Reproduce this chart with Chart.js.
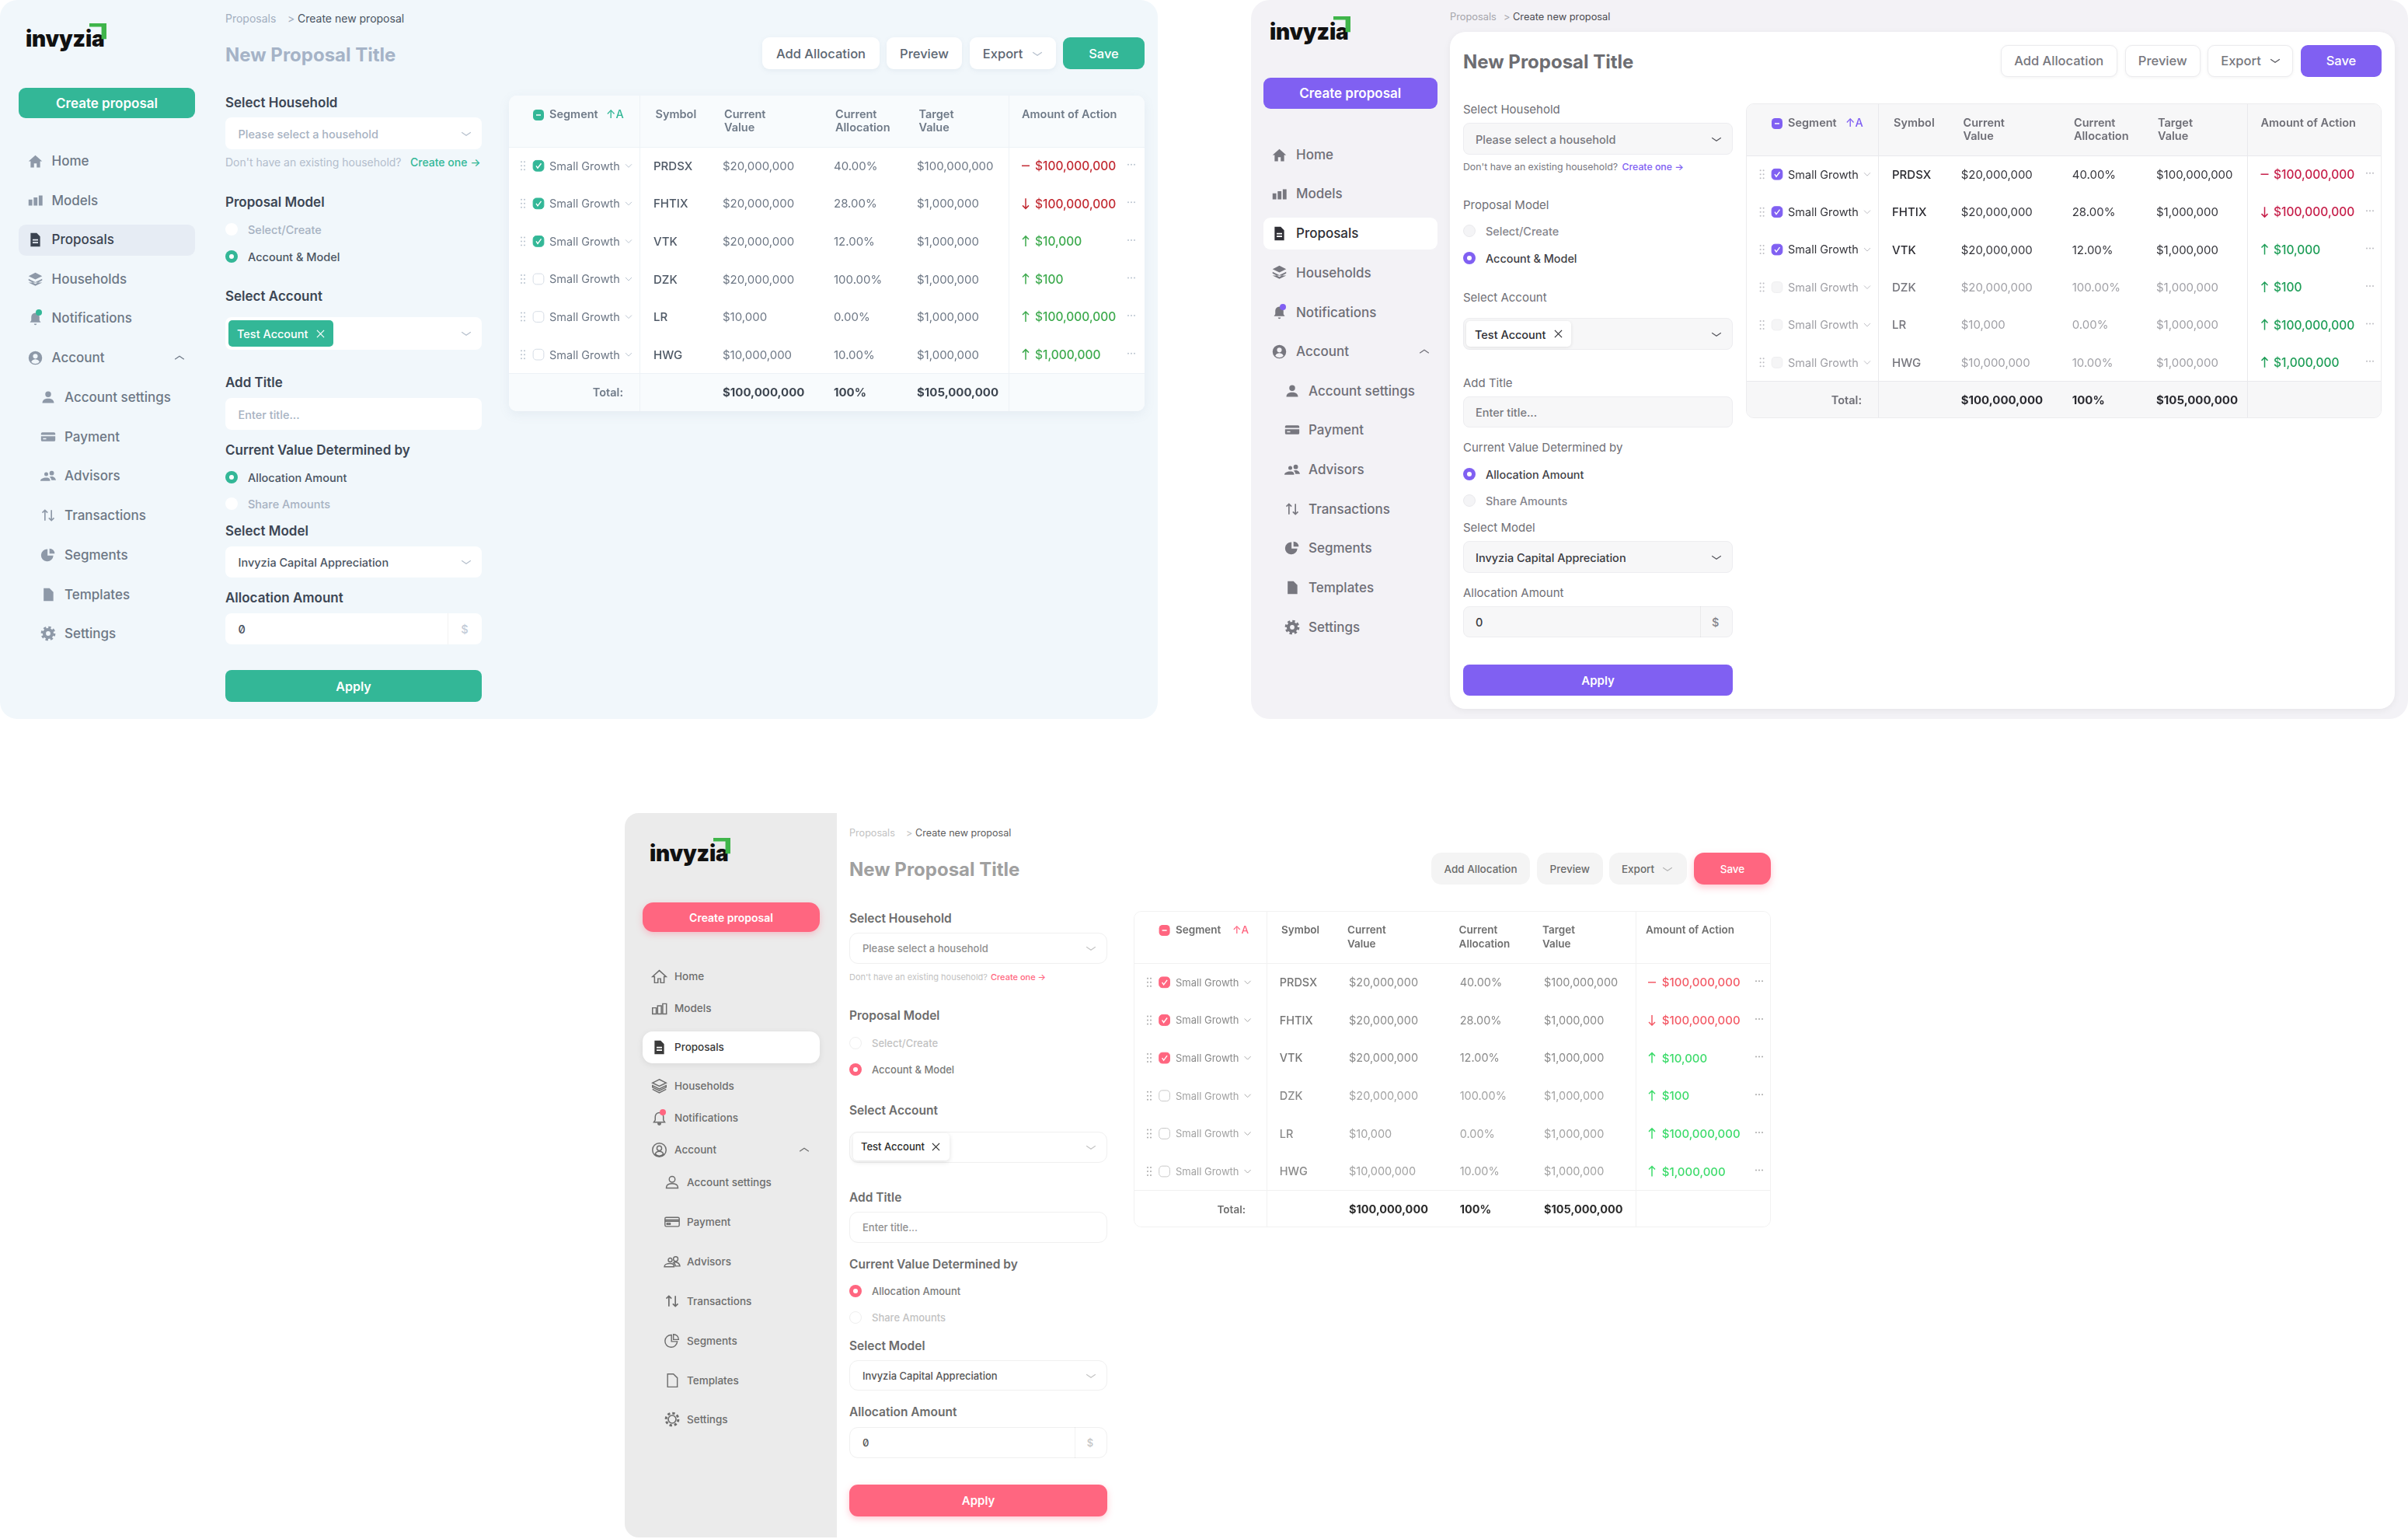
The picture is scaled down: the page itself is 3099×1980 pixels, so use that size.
<!DOCTYPE html>
<html>
<head>
<meta charset="utf-8">
<title>New Proposal Title</title>
<script src="https://cdn.jsdelivr.net/npm/chart.js@4"></script>
<style>
  html, body { margin: 0; padding: 0; background: #fff; }
  #page { position: relative; width: 3099px; height: 1980px; overflow: hidden; font-family: Inter, "Noto Sans", sans-serif; }
  .abs { position: absolute; box-sizing: border-box; }
  .txt { position: absolute; white-space: nowrap; transform: translateY(-50%); line-height: 1.2; }
  svg { position: absolute; overflow: visible; }
  canvas { display: block; }
</style>
</head>
<body>
<div id="page"></div>
<script>
// --- DATOS DE LA TABLA ---
const tableHeaders = [['Segment'], ['Symbol'], ['Current', 'Value'], ['Current', 'Allocation'], ['Target', 'Value'], ['Amount of Action']];
const segments = ['Small Growth', 'Small Growth', 'Small Growth', 'Small Growth', 'Small Growth', 'Small Growth'];
const symbols = ['PRDSX', 'FHTIX', 'VTK', 'DZK', 'LR', 'HWG'];
const currentValues = [20000000, 20000000, 20000000, 20000000, 10000, 10000000];
const currentAllocations = [40, 28, 12, 100, 0, 10];
const targetValues = [100000000, 1000000, 1000000, 1000000, 1000000, 1000000];
const actionAmounts = [100000000, 100000000, 10000, 100, 100000000, 1000000];
const actionDirections = ['flat', 'down', 'up', 'up', 'up', 'up'];
const checkedRows = [true, true, true, false, false, false];
const totalLabel = 'Total:';
const totalCurrent = 100000000;
const totalAllocation = 100;
const totalTarget = 105000000;

// --- TEXTOS DE LA INTERFAZ ---
const navItems = ['Home', 'Models', 'Proposals', 'Households', 'Notifications', 'Account'];
const navIcons = ['home', 'models', 'doc', 'stack', 'bell', 'userCircle'];
const subNavItems = ['Account settings', 'Payment', 'Advisors', 'Transactions', 'Segments', 'Templates', 'Settings'];
const subNavIcons = ['user', 'card', 'people', 'arrows', 'pie', 'file', 'gear'];
const buttonLabels = ['Add Allocation', 'Preview', 'Export', 'Save'];

const money = v => '$' + v.toLocaleString('en-US');

// --- TEMAS: colores y posiciones de cada una de las tres pantallas ---
const temaVerde = {
  accent: '#33b797', panel: [0, 0, 1490, 925, 22, '#f1f7fb'], side: null,
  logo: [33, 50], nav: { x: 66.5, ic: 45, subX: 83, subIc: 62, y: [207, 257.5, 308, 359, 409, 460, 511, 562, 612, 663, 713.5, 764.5, 815], size: 17, color: '#6d7785', active: '#3a4350', hi: '#e6ecf4', hiShadow: 'none', icon: '#8e99a8', outline: false, radius: 9, chevX: 231 },
  create: [24, 113, 251, 152, 9, 17, 'none'], hi: [24, 289, 251, 329],
  crumb: { x: 290, sep: 370, cur: 383, y: 22.5, size: 14, c1: '#a3afbf', c2: '#4a5462' },
  title: [290, 70, '#a5b3c7', 700], form: [290, 620], inputPadX: 306.5, chevX: 600, dollarX: 598, divX: 576,
  y: { l1: 132, i1: [151, 192], hint: 208, l2: 260, r1: 295, r2: 330, l3: 381, i3: [408, 450], chip: [294, 429, 412, 446], chipText: 305, chipX: 412, l4: 492, i4: [512, 553], l5: 579, r3: 614, r4: 648, l6: 683, i6: [703, 743], l7: 769, i7: [789, 829], apply: [862, 903] },
  label: { size: 17, weight: 600, color: '#3c4654' }, input: { bg: '#fff', border: 'none', r: 8, ph: '#a7b2c2', val: '#4a5462', size: 14.5, zero: true },
  hintX: 528, hintSize: 14, hintC: '#b3bdcc', radio: { x: 298, tx: 319, size: 14.5, on: '#4a5462', off: '#a7b2c2', emptyBg: '#fff', emptyBorder: 'none', d: 16 },
  chipBg: '#33b797', chipFg: '#fff', chipShadow: 'none', chevC: '#b5bfcc', applyShadow: 'none', dollarC: '#c3ccd8',
  btn: { y: [48, 89], x: [[981, 1132], [1141, 1238], [1248, 1359], [1368, 1473]], bg: '#fff', border: 'none', r: 9, shadow: '0 2px 6px rgba(120,140,170,.10)', color: '#5c6672', size: 16.5, chev: 1334.5, expText: 1290.6, saveShadow: 'none', chevC: '#b5bfcc' },
  card: [655, 123, 1473, 529], cardStyle: 'box-shadow:0 4px 14px rgba(120,140,170,.10);border-radius:10px;', headH: 66, headBg: '#f8fbfd', totalBg: '#f8fbfd', body: '#fff', line: '#edf2f6',
  sep: [823, 1298], cols: [707, 843.5, 932, 1075, 1182.5, 1315], cells: { drag: 673, check: 693, seg: 707, chev: 809, sym: 841, val: 930, alloc: 1073, target: 1180, amt: 1315, amtText: 1332, dots: 1456, total: 802 }, sort: 780,
  tableFont: 15, amtFont: 15.5, headFont: 14.5, segFont: 14.5, headC: '#6f7a88', headY: 15.5, lh: 17,
  cellOn: '#6d7785', cellOff: '#6d7785', symOn: '#4f5966', symOff: '#4f5966', totalC: '#3d4550', totalLab: '#6f7a88', red: '#c22b33', green: '#3eaa4e', emptyBox: '#fff', boxLine: '#d5dce5', faint: '#b9c3cf'
};

const temaMorado = {
  accent: '#8060f2', panel: [1610, 0, 1489, 925, 24, '#f3f2f6'], side: null, sheet: [1866, 41, 1216, 871, 20],
  logo: [1634, 41], nav: { x: 1668, ic: 1646, subX: 1684, subIc: 1663, y: [199, 249, 300, 350.5, 401.5, 452, 503, 553, 604, 655, 705, 756, 807], size: 17, color: '#6e6e76', active: '#2f2f36', hi: '#fff', hiShadow: 'none', icon: '#77777f', outline: false, radius: 9, chevX: 1833 },
  create: [1626, 100, 1849.5, 140, 9, 17, 'none'], hi: [1626, 280, 1849.5, 321],
  crumb: { x: 1866, sep: 1935, cur: 1947, y: 21, size: 12.8, c1: '#a5a5ab', c2: '#4a4a50' },
  title: [1883, 79, '#6d6d72', 700], form: [1883, 2230], inputPadX: 1899, chevX: 2209, dollarX: 2207.6, divX: 2187.5,
  y: { l1: 140, i1: [158, 199], hint: 214, l2: 263, r1: 297, r2: 331.5, l3: 382, i3: [409, 450], chip: [1887, 2022, 413, 446], chipText: 1898, chipX: 2005, l4: 492, i4: [510, 550], l5: 575, r3: 610, r4: 643.5, l6: 678, i6: [696, 737], l7: 761.5, i7: [780, 820], apply: [855, 895] },
  label: { size: 15, weight: 400, color: '#6f6f76' }, input: { bg: '#f7f7f8', border: '1px solid #ededf0', r: 8, ph: '#77777e', val: '#3a3a40', size: 14.5, zero: false },
  hintX: 2087.5, hintSize: 12.3, hintC: '#77777e', radio: { x: 1891, tx: 1912, size: 14.4, on: '#3f3f46', off: '#85858c', emptyBg: '#f4f4f6', emptyBorder: '1px solid #eaeaed', d: 16 },
  chipBg: '#fff', chipFg: '#2e2e34', chipShadow: '0 1px 4px rgba(0,0,0,.10)', chevC: '#55555c', applyShadow: 'none', dollarC: '#85858c',
  btn: { y: [58, 98.5], x: [[2575, 2724.5], [2735, 2831.5], [2841.4, 2951], [2961, 3065]], bg: '#fff', border: '1px solid #ebebee', r: 9, shadow: '0 1px 4px rgba(0,0,0,.05)', color: '#77777e', size: 16.5, chev: 2928, expText: 2884, saveShadow: 'none', chevC: '#55555c' },
  card: [2247, 132.5, 3065, 538], cardStyle: 'border:1px solid #ececee;border-radius:10px;', headH: 66, headBg: '#f7f7f8', totalBg: '#f7f7f8', body: '#fff', line: '#e9e9ec',
  sep: [2416, 2891], cols: [2300, 2436, 2525.5, 2668, 2776, 2908.5], cells: { drag: 2266.6, check: 2286, seg: 2300, chev: 2402, sym: 2434, val: 2522.7, alloc: 2665.7, target: 2774, amt: 2908.5, amtText: 2925, dots: 3049, total: 2395 }, sort: 2374,
  tableFont: 15, amtFont: 15.5, headFont: 14.5, segFont: 14.5, headC: '#6e6e76', headY: 15.5, lh: 17,
  cellOn: '#35353b', cellOff: '#a0a0a6', symOn: '#2c2c32', symOff: '#77777e', totalC: '#2a2a30', totalLab: '#6e6e76', red: '#c61f4a', green: '#1f9e58', emptyBox: '#f5f5f6', boxLine: '#eeeef0', faint: '#bcbcc2'
};

const temaRosa = {
  accent: '#ff6680', panel: null, side: [804, 1046, 273, 932, '#ebebeb'],
  logo: [836, 1098], nav: { x: 868, ic: 848, subX: 884, subIc: 865, y: [1256, 1297, 1347, 1397, 1438, 1479, 1521, 1572, 1623, 1674, 1725, 1776, 1826], size: 13.5, color: '#6d6d6d', active: '#3a3a3a', hi: '#fff', hiShadow: '0 2px 8px rgba(0,0,0,.08)', icon: '#6d6d6d', outline: true, radius: 13, chevX: 1035 },
  create: [827, 1161, 1055, 1199, 14, 14, '0 3px 8px rgba(255,102,128,.35)'], hi: [827, 1327, 1055, 1368],
  crumb: { x: 1093, sep: 1166, cur: 1178, y: 1071, size: 12.6, c1: '#c2c2c2', c2: '#5e5e5e' },
  title: [1093, 1118, '#a0a0a0', 700], form: [1093, 1425], inputPadX: 1110, chevX: 1404, dollarX: 1403, divX: 1383,
  y: { l1: 1181, i1: [1200, 1240], hint: 1256.5, l2: 1306, r1: 1341.5, r2: 1376, l3: 1428, i3: [1455.5, 1496], chip: [1097.6, 1222, 1458, 1492.6], chipText: 1108, chipX: 1204.5, l4: 1539.5, i4: [1558.6, 1599], l5: 1626, r3: 1661, r4: 1695, l6: 1730.6, i6: [1750, 1789.4], l7: 1816, i7: [1836, 1876], apply: [1910, 1950.6] },
  label: { size: 15.5, weight: 600, color: '#6c6c6c' }, input: { bg: '#fff', border: '1px solid #f0f0f0', r: 11, ph: '#8f8f8f', val: '#555', size: 13, zero: true },
  hintX: 1275, hintSize: 11, hintC: '#c2c2c2', radio: { x: 1101, tx: 1122, size: 13, on: '#7a7a7a', off: '#c2c2c2', emptyBg: '#fff', emptyBorder: '1px solid #efefef', d: 16 },
  chipBg: '#fff', chipFg: '#2b2b2b', chipShadow: '0 2px 6px rgba(0,0,0,.12)', chevC: '#c4c4c4', applyShadow: '0 3px 8px rgba(255,102,128,.35)', dollarC: '#c4c4c4',
  btn: { y: [1097, 1138], x: [[1842, 1969], [1978, 2062.6], [2071, 2171], [2180, 2279]], bg: '#f4f4f4', border: 'none', r: 13, shadow: 'none', color: '#6b6b6b', size: 13.5, chev: 2146, expText: 2108, saveShadow: '0 4px 10px rgba(255,102,128,.35)', chevC: '#b5b5b5' },
  card: [1459, 1172, 2279, 1579], cardStyle: 'border:1px solid #f2f2f2;border-radius:10px;', headH: 66.5, headBg: '#fff', totalBg: '#fff', body: '#fff', line: '#f1f1f1',
  sep: [1629, 2104], cols: [1512, 1648, 1733, 1876.6, 1984, 2117], cells: { drag: 1478, check: 1497.6, seg: 1512, chev: 1604.6, sym: 1645.7, val: 1735, alloc: 1877.7, target: 1986, amt: 2120, amtText: 2137.8, dots: 2263, total: 1602 }, sort: 1585,
  tableFont: 14.5, amtFont: 15, headFont: 13.5, segFont: 13, headC: '#6e6e6e', headY: 15.5, lh: 18,
  cellOn: '#8a8a8a', cellOff: '#a3a3a3', symOn: '#777', symOff: '#8a8a8a', totalC: '#2b2b2b', totalLab: '#6e6e6e', red: '#f35a66', green: '#3ddb6b', emptyBox: '#fff', boxLine: '#c9c9c9', faint: '#a8a8a8'
};

// ================= 1. AYUDAS PARA EL HTML =================
const page = document.getElementById('page');

function caja(x0, y0, x1, y1, css) {
  const d = document.createElement('div');
  d.className = 'abs';
  d.style.cssText = `left:${x0}px;top:${y0}px;width:${x1 - x0}px;height:${y1 - y0}px;` + css;
  page.appendChild(d);
  return d;
}

function texto(x, y, str, css) {
  const d = document.createElement('div');
  d.className = 'txt';
  d.textContent = str;
  d.style.cssText = `left:${x}px;top:${y}px;` + css;
  page.appendChild(d);
  return d;
}

function svg(cx, cy, size, inner) {
  const host = document.createElement('div');
  host.innerHTML = `<svg viewBox="0 0 24 24" width="${size}" height="${size}" style="left:${cx - size / 2}px;top:${cy - size / 2}px">${inner}</svg>`;
  page.appendChild(host.firstChild);
}

function chevron(cx, cy, color, arriba) {
  const pts = arriba ? '2,16 12,9 22,16' : '2,9 12,16 22,9';
  svg(cx, cy, 14, `<polyline points="${pts}" fill="none" stroke="${color}" stroke-width="2"/>`);
}

const iconPaths = {
  home: 'M2 12 12 3l10 9h-3v9h-5v-6h-4v6H5v-9z',
  models: 'M2 11h5.5v9H2zM9.5 8H15v12H9.5zM17 5h5.5v15H17z',
  doc: 'M5 2h9l5 5v15H5zM8 11v2h8v-2zM8 15v2h8v-2z',
  stack: 'M12 2 22 7 12 12 2 7zM2 11l10 5 10-5v2.5l-10 5-10-5zM2 16.5l10 5 10-5',
  bell: 'M12 4a6 6 0 0 0-6 6v5l-2 3h16l-2-3v-5a6 6 0 0 0-6-6zM10 20a2 2 0 0 0 4 0z',
  userCircle: 'M12 2a10 10 0 1 0 0 20 10 10 0 0 0 0-20zM12 6a3.5 3.5 0 1 1 0 7 3.5 3.5 0 0 1 0-7zM6 18c1-3 4-4 6-4s5 1 6 4a8 8 0 0 1-12 0z',
  user: 'M12 3a4.5 4.5 0 1 1 0 9 4.5 4.5 0 0 1 0-9zM3 21c0-5 4-7 9-7s9 2 9 7z',
  card: 'M1 7a2 2 0 0 1 2-2h18a2 2 0 0 1 2 2v10a2 2 0 0 1-2 2H3a2 2 0 0 1-2-2zM1 9v2h22V9zM4 14v2h5v-2z',
  people: 'M6 9.5a3 3 0 1 0 6 0 3 3 0 1 0-6 0zM0 20c0-3 4-5 9-5s6 2 6 5zM14 8a3.5 3.5 0 1 0 7 0 3.5 3.5 0 1 0-7 0zM17 19c0-2-1-4-3-5 3-2 9-1 10 5z',
  pie: 'M11 3a9.5 9.5 0 1 0 9 10h-9zM14 2a8 8 0 0 1 8 8h-8z',
  file: 'M5 2h9l6 6v14H5z'
};

function icono(nombre, cx, cy, size, color, outline) {
  if (nombre === 'arrows') {
    svg(cx, cy, size, `<path d="M7 20V4M3 8l4-4 4 4M17 4v16M13 16l4 4 4-4" fill="none" stroke="${color}" stroke-width="2"/>`);
  } else if (nombre === 'gear') {
    svg(cx, cy, size, `<circle cx="12" cy="12" r="6" fill="none" stroke="${color}" stroke-width="${outline ? 2 : 5}"/><circle cx="12" cy="12" r="9.5" fill="none" stroke="${color}" stroke-width="3.5" stroke-dasharray="4 3.46"/>`);
  } else if (outline) {
    svg(cx, cy, size, `<path d="${iconPaths[nombre]}" fill="none" stroke="${color}" stroke-width="1.7"/>`);
  } else {
    svg(cx, cy, size, `<path d="${iconPaths[nombre]}" fill="${color}" fill-rule="evenodd"/>`);
  }
}

// ================= 2. BARRA LATERAL Y FORMULARIO =================
function logo(x, y) {
  texto(x, y, 'invyzia', 'font:900 28px Inter;color:#111;letter-spacing:-0.2px;');
  svg(x + 93, y - 9.5, 22, '<path d="M0 0H24V22H17V5H0z" fill="#3fb54a"/>');
}

function dibujarLateral(t) {
  logo(t.logo[0], t.logo[1]);
  const c = t.create;
  caja(c[0], c[1], c[2], c[3], `background:${t.accent};border-radius:${c[4]}px;box-shadow:${c[6]};`);
  texto((c[0] + c[2]) / 2, (c[1] + c[3]) / 2, 'Create proposal', `font:600 ${c[5]}px Inter;color:#fff;transform:translate(-50%,-50%);`);
  caja(t.hi[0], t.hi[1], t.hi[2], t.hi[3], `background:${t.nav.hi};border-radius:${t.nav.radius}px;box-shadow:${t.nav.hiShadow};`);
  const n = t.nav;
  navItems.forEach((item, i) => {
    const activo = item === 'Proposals';
    icono(navIcons[i], n.ic, n.y[i], 21, activo ? n.active : n.icon, n.outline && !activo);
    texto(n.x, n.y[i], item, `font:500 ${n.size}px Inter;color:${activo ? n.active : n.color};`);
  });
  svg(n.ic + 5, n.y[4] - 7, 8, `<circle cx="12" cy="12" r="12" fill="${t.accent}"/>`);
  chevron(n.chevX, n.y[5], n.color, true);
  subNavItems.forEach((item, i) => {
    const y = n.y[i + 6];
    icono(subNavIcons[i], n.subIc, y, 20, n.icon, n.outline);
    texto(n.subX, y, item, `font:500 ${n.size}px Inter;color:${n.color};`);
  });
}

function dibujarFormulario(t) {
  const [fx0, fx1] = t.form;
  const y = t.y;
  const etiqueta = (yy, str) => texto(fx0, yy, str, `font:${t.label.weight} ${t.label.size}px Inter;color:${t.label.color};`);
  const entrada = (par, str, color, extra) => {
    caja(fx0, par[0], fx1, par[1], `background:${t.input.bg};border:${t.input.border};border-radius:${t.input.r}px;`);
    if (str) texto(t.inputPadX, (par[0] + par[1]) / 2, str, `font:500 ${t.input.size}px Inter;color:${color};` + (extra || ''));
  };
  const radio = (yy, str, activo) => {
    const r = t.radio;
    if (activo) {
      caja(r.x - r.d / 2, yy - r.d / 2, r.x + r.d / 2, yy + r.d / 2, `background:${t.accent};border-radius:50%;`);
      caja(r.x - 3, yy - 3, r.x + 3, yy + 3, 'background:#fff;border-radius:50%;');
    } else {
      caja(r.x - r.d / 2, yy - r.d / 2, r.x + r.d / 2, yy + r.d / 2, `background:${r.emptyBg};border:${r.emptyBorder};border-radius:50%;`);
    }
    texto(r.tx, yy, str, `font:500 ${r.size}px Inter;color:${activo ? r.on : r.off};`);
  };

  texto(t.crumb.x, t.crumb.y, 'Proposals', `font:400 ${t.crumb.size}px Inter;color:${t.crumb.c1};`);
  texto(t.crumb.sep, t.crumb.y, '>', `font:400 ${t.crumb.size}px Inter;color:${t.crumb.c1};`);
  texto(t.crumb.cur, t.crumb.y, 'Create new proposal', `font:400 ${t.crumb.size}px Inter;color:${t.crumb.c2};`);
  texto(t.title[0], t.title[1], 'New Proposal Title', `font:${t.title[3]} 24px Inter;color:${t.title[2]};`);

  etiqueta(y.l1, 'Select Household');
  entrada(y.i1, 'Please select a household', t.input.ph);
  chevron(t.chevX, (y.i1[0] + y.i1[1]) / 2, t.chevC);
  texto(fx0, y.hint, "Don't have an existing household?", `font:400 ${t.hintSize}px Inter;color:${t.hintC};`);
  texto(t.hintX, y.hint, 'Create one →', `font:500 ${t.hintSize}px Inter;color:${t.accent};`);

  etiqueta(y.l2, 'Proposal Model');
  radio(y.r1, 'Select/Create', false);
  radio(y.r2, 'Account & Model', true);

  etiqueta(y.l3, 'Select Account');
  entrada(y.i3, '', '');
  const ch = y.chip;
  caja(ch[0], ch[2], ch[1], ch[3], `background:${t.chipBg};border-radius:5px;box-shadow:${t.chipShadow};`);
  texto(y.chipText, (ch[2] + ch[3]) / 2, 'Test Account', `font:500 ${t.input.size}px Inter;color:${t.chipFg};`);
  svg(y.chipX, (ch[2] + ch[3]) / 2, 11, `<path d="M2 2 22 22M22 2 2 22" stroke="${t.chipFg}" stroke-width="2.6"/>`);
  chevron(t.chevX, (y.i3[0] + y.i3[1]) / 2, t.chevC);

  etiqueta(y.l4, 'Add Title');
  entrada(y.i4, 'Enter title...', t.input.ph);

  etiqueta(y.l5, 'Current Value Determined by');
  radio(y.r3, 'Allocation Amount', true);
  radio(y.r4, 'Share Amounts', false);

  etiqueta(y.l6, 'Select Model');
  entrada(y.i6, 'Invyzia Capital Appreciation', t.input.val);
  chevron(t.chevX, (y.i6[0] + y.i6[1]) / 2, t.chevC);

  etiqueta(y.l7, 'Allocation Amount');
  entrada(y.i7, '0', t.input.val, t.input.zero ? 'font-feature-settings:"zero";' : '');
  caja(t.divX, y.i7[0], t.divX + 1, y.i7[1], 'background:rgba(0,0,0,.05);');
  texto(t.dollarX, (y.i7[0] + y.i7[1]) / 2, '$', `font:500 ${t.input.size}px Inter;color:${t.dollarC};transform:translate(-50%,-50%);`);

  caja(fx0, y.apply[0], fx1, y.apply[1], `background:${t.accent};border-radius:${t.input.r}px;box-shadow:${t.applyShadow};`);
  texto((fx0 + fx1) / 2, (y.apply[0] + y.apply[1]) / 2, 'Apply', `font:600 ${t.label.size > 15.5 ? 16 : 15}px Inter;color:#fff;transform:translate(-50%,-50%);`);
}

function dibujarBotones(t) {
  const b = t.btn;
  buttonLabels.forEach((lab, i) => {
    const [x0, x1] = b.x[i];
    const esSave = lab === 'Save';
    caja(x0, b.y[0], x1, b.y[1], esSave
      ? `background:${t.accent};border-radius:${b.r}px;box-shadow:${b.saveShadow};`
      : `background:${b.bg};border:${b.border};border-radius:${b.r}px;box-shadow:${b.shadow};`);
    const cx = lab === 'Export' ? b.expText : (x0 + x1) / 2;
    texto(cx, (b.y[0] + b.y[1]) / 2, lab, `font:500 ${b.size}px Inter;color:${esSave ? '#fff' : b.color};transform:translate(-50%,-50%);`);
  });
  chevron(b.chev, (b.y[0] + b.y[1]) / 2, b.chevC);
}

// ================= 3. TABLA CON CHART.JS =================
function crearTabla(t) {
  const [cx0, cy0, cx1, cy1] = t.card;
  const W = cx1 - cx0, H = cy1 - cy0;
  const wrap = caja(cx0, cy0, cx1, cy1, 'overflow:hidden;background:#fff;' + t.cardStyle);
  const canvas = document.createElement('canvas');
  canvas.width = W;
  canvas.height = H;
  wrap.appendChild(canvas);

  const X = v => v - cx0;
  const rowLabels = [...symbols, totalLabel];
  const c = t.cells;
  const fila = font => `${font}px Inter`;

  // Cada columna es un dataset scatter: un punto por celda, y el texto se pinta sobre el punto
  const columna = (x, textos, colores, font) => ({
    data: textos.map((_, i) => ({ x: X(x), y: rowLabels[i] })),
    pointRadius: 0, cellText: textos, cellColor: colores, cellFont: font
  });
  const on = (a, b) => checkedRows.map(k => (k ? a : b));
  const datasets = [
    {
      data: symbols.map(s => ({ x: X(c.check), y: s })),
      pointStyle: 'rectRounded', pointRadius: 8, isCheck: true,
      pointBackgroundColor: checkedRows.map(k => (k ? t.accent : t.emptyBox)),
      pointBorderColor: checkedRows.map(k => (k ? t.accent : t.boxLine)), pointBorderWidth: 1
    },
    columna(c.seg, segments, on(t.cellOn, t.cellOff), '400 ' + fila(t.segFont)),
    columna(c.sym, symbols, on(t.symOn, t.symOff), '500 ' + fila(t.tableFont)),
    columna(c.val, currentValues.map(money), on(t.cellOn, t.cellOff), '400 ' + fila(t.tableFont)),
    columna(c.alloc, currentAllocations.map(v => v.toFixed(2) + '%'), on(t.cellOn, t.cellOff), '400 ' + fila(t.tableFont)),
    columna(c.target, targetValues.map(money), on(t.cellOn, t.cellOff), '400 ' + fila(t.tableFont)),
    columna(c.amtText, actionAmounts.map(money), actionDirections.map(d => (d === 'up' ? t.green : t.red)), '500 ' + fila(t.amtFont)),
    {
      data: [{ x: X(c.total), y: totalLabel }], pointRadius: 0,
      cellText: [totalLabel], cellColor: [t.totalLab], cellFont: '600 ' + fila(t.headFont), cellAlign: 'right'
    },
    {
      data: [c.val, c.alloc, c.target].map(x => ({ x: X(x), y: totalLabel })), pointRadius: 0,
      cellText: [money(totalCurrent), totalAllocation + '%', money(totalTarget)],
      cellColor: [t.totalC, t.totalC, t.totalC], cellFont: '700 ' + fila(t.tableFont)
    }
  ];

  const marcas = {
    id: 'tableMarks',
    beforeDraw(chart) {
      const ctx = chart.ctx, a = chart.chartArea, y = chart.scales.y, x = chart.scales.x;
      const band = (a.bottom - a.top) / rowLabels.length;
      ctx.save();
      ctx.fillStyle = t.headBg;
      ctx.fillRect(0, 0, W, a.top);
      ctx.fillStyle = t.totalBg;
      ctx.fillRect(0, y.getPixelForValue(6) - band / 2, W, band + 1);
      // separadores de columna en la cabecera
      ctx.strokeStyle = t.line;
      t.sep.forEach(s => {
        const px = Math.round(x.getPixelForValue(X(s))) + 0.5;
        ctx.beginPath();
        ctx.moveTo(px, 0);
        ctx.lineTo(px, a.top);
        ctx.stroke();
      });
      ctx.restore();
    },
    afterDatasetsDraw(chart) {
      const ctx = chart.ctx, x = chart.scales.x, yAxis = chart.scales.y, a = chart.chartArea;
      const px = v => x.getPixelForValue(X(v));
      ctx.save();
      ctx.textBaseline = 'middle';
      chart.data.datasets.forEach((ds, di) => {
        if (!ds.cellText) return;
        ctx.font = ds.cellFont;
        ctx.textAlign = ds.cellAlign || 'left';
        chart.getDatasetMeta(di).data.forEach((pt, i) => {
          ctx.fillStyle = ds.cellColor[i];
          ctx.fillText(ds.cellText[i], pt.x, pt.y + 1);
        });
      });

      // marcas de cada fila: asa, visto, desplegable, flecha y puntos
      ctx.textAlign = 'left';
      const puntos = (pxx, py) => { ctx.beginPath(); ctx.arc(pxx, py, 1, 0, Math.PI * 2); ctx.fill(); };
      symbols.forEach((s, i) => {
        const py = yAxis.getPixelForValue(i);
        ctx.fillStyle = t.faint;
        [-5, 0, 5].forEach(d => { puntos(px(c.drag) - 2, py + d); puntos(px(c.drag) + 2, py + d); });
        [-4, 0, 4].forEach(d => puntos(px(c.dots) + d, py - 1.5));

        ctx.strokeStyle = t.faint;
        ctx.lineWidth = 1;
        ctx.beginPath();
        ctx.moveTo(px(c.chev) - 4, py - 2);
        ctx.lineTo(px(c.chev), py + 2);
        ctx.lineTo(px(c.chev) + 4, py - 2);
        ctx.stroke();

        if (checkedRows[i]) {
          ctx.strokeStyle = '#fff';
          ctx.lineWidth = 1.4;
          const bx = px(c.check);
          ctx.beginPath();
          ctx.moveTo(bx - 3, py);
          ctx.lineTo(bx - 1, py + 3);
          ctx.lineTo(bx + 3.5, py - 3);
          ctx.stroke();
        }

        const dir = actionDirections[i];
        const ax = px(c.amt) + 5;
        ctx.strokeStyle = dir === 'up' ? t.green : t.red;
        ctx.lineWidth = 1.5;
        ctx.beginPath();
        if (dir === 'flat') {
          ctx.moveTo(ax - 5, py);
          ctx.lineTo(ax + 5, py);
        } else {
          const s2 = dir === 'up' ? 1 : -1;
          ctx.moveTo(ax, py + 6.5 * s2);
          ctx.lineTo(ax, py - 6.5 * s2);
          ctx.moveTo(ax - 4, py - 2.5 * s2);
          ctx.lineTo(ax, py - 6.5 * s2);
          ctx.lineTo(ax + 4, py - 2.5 * s2);
        }
        ctx.stroke();
      });

      // casilla general y orden en la cabecera
      const hy = a.top - t.headH + (t.headH - t.headY - 2 * t.lh) + t.lh / 2;
      const bx = px(c.check);
      ctx.fillStyle = t.accent;
      ctx.beginPath();
      ctx.roundRect(bx - 7, hy - 7, 14, 14, 4.5);
      ctx.fill();
      ctx.strokeStyle = '#fff';
      ctx.lineWidth = 1.5;
      ctx.beginPath();
      ctx.moveTo(bx - 3, hy);
      ctx.lineTo(bx + 3, hy);
      ctx.stroke();
      ctx.font = `500 ${t.headFont}px Inter`;
      ctx.fillStyle = t.accent;
      ctx.fillText('↑A', px(t.sort), hy);
      ctx.restore();
    }
  };

  return new Chart(canvas, {
    type: 'scatter',
    data: { labels: rowLabels, datasets },
    options: {
      responsive: false,
      animation: false,
      devicePixelRatio: 1,
      layout: { padding: 0, autoPadding: false },
      plugins: { legend: { display: false }, tooltip: { enabled: false } },
      events: [],
      scales: {
        x: {
          type: 'linear', position: 'top', min: 0, max: W,
          afterBuildTicks(axis) {
            // las cabeceras primero, los separadores al final (sin texto)
            axis.ticks = [...t.cols, ...t.sep].map(v => ({ value: X(v) }));
          },
          afterFit(axis) {
            axis.height = t.headH;
            axis.paddingLeft = 0;
            axis.paddingRight = 0;
          },
          border: { display: false },
          grid: {
            drawTicks: false,
            color: ctx => (ctx.index >= tableHeaders.length ? t.line : 'transparent')
          },
          ticks: {
            autoSkip: false, maxRotation: 0, minRotation: 0,
            align: 'start', crossAlign: 'far', padding: t.headY,
            color: t.headC,
            font: { family: 'Inter', size: t.headFont, weight: '600', lineHeight: t.lh + 'px' },
            callback: (v, i) => (i < tableHeaders.length ? tableHeaders[i] : '')
          }
        },
        y: {
          type: 'category', labels: rowLabels, offset: true,
          afterFit(axis) { axis.width = 0; },
          border: { display: false },
          grid: {
            offset: true, drawTicks: false,
            color: ctx => (ctx.index === 0 || ctx.index === symbols.length ? t.line : 'transparent')
          },
          ticks: { display: false, autoSkip: false }
        }
      }
    },
    plugins: [marcas]
  });
}

// ================= 4. DIBUJAR LAS TRES PANTALLAS =================
[temaVerde, temaMorado, temaRosa].forEach(t => {
  if (t.panel) {
    const [x, y, w, h, r, bg] = t.panel;
    caja(x, y, x + w, y + h, `background:${bg};border-radius:${r}px;`);
  }
  if (t.side) {
    const [x, y, w, h, bg] = t.side;
    caja(x, y, x + w, y + h, `background:${bg};border-radius:18px 0 0 18px;`);
  }
  if (t.sheet) {
    const [x, y, w, h, r] = t.sheet;
    caja(x, y, x + w, y + h, `background:#fff;border-radius:${r}px;box-shadow:0 2px 10px rgba(0,0,0,.06);`);
  }
  dibujarLateral(t);
  dibujarFormulario(t);
  dibujarBotones(t);
  crearTabla(t);
});
</script>
</body>
</html>
